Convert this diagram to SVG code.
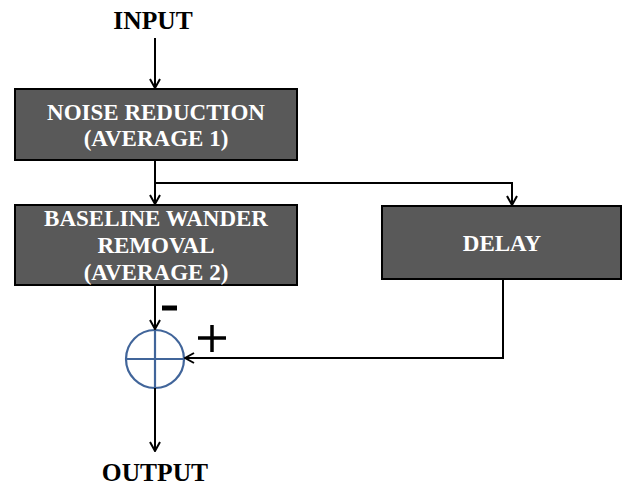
<svg xmlns="http://www.w3.org/2000/svg" width="627" height="486" viewBox="0 0 627 486">
<defs>
<marker id="arr" viewBox="0 0 12 12" refX="11" refY="6" markerWidth="12" markerHeight="12" markerUnits="userSpaceOnUse" orient="auto">
<path d="M2,1 L11,6 L2,11" fill="none" stroke="#000" stroke-width="2"/>
</marker>
<style>
.box{fill:#595959;stroke:#000;stroke-width:2}
.bt{font-family:"Liberation Serif",serif;font-weight:bold;font-size:23px;fill:#fff;text-anchor:middle}
.lt{font-family:"Liberation Serif",serif;font-weight:bold;font-size:25.5px;fill:#000;text-anchor:middle}
.ln{fill:none;stroke:#000;stroke-width:2}
.sg{stroke:#000;stroke-width:3.5;fill:none}
</style>
</defs>
<rect width="627" height="486" fill="#fff"/>
<g id="input"><text class="lt" x="153" y="29">INPUT</text></g>
<g id="noise">
<rect class="box" x="15" y="89" width="282" height="71"/>
<text class="bt" x="156" y="120">NOISE REDUCTION</text>
<text class="bt" x="156" y="146">(AVERAGE 1)</text>
</g>
<g id="baseline">
<rect class="box" x="15" y="205" width="282" height="80"/>
<text class="bt" x="156" y="226">BASELINE WANDER</text>
<text class="bt" x="156" y="253">REMOVAL</text>
<text class="bt" x="156" y="280">(AVERAGE 2)</text>
</g>
<g id="delay">
<rect class="box" x="382" y="206" width="239" height="73"/>
<text class="bt" x="502" y="251">DELAY</text>
</g>
<g id="sum">
<circle cx="155" cy="359" r="29" fill="none" stroke="#41659A" stroke-width="2.2"/>
<line x1="126" y1="359" x2="184" y2="359" stroke="#41659A" stroke-width="2.2"/>
<line x1="155" y1="330" x2="155" y2="388" stroke="#41659A" stroke-width="2.2"/>
</g>
<g id="signs">
<line x1="162" y1="308" x2="177" y2="308" stroke="#000" stroke-width="5"/>
<line class="sg" x1="198" y1="338" x2="226" y2="338"/>
<line class="sg" x1="212" y1="325" x2="212" y2="352"/>
</g>
<g id="output"><text class="lt" x="155" y="481">OUTPUT</text></g>
<g id="connectors">
<line class="ln" x1="155" y1="38" x2="155" y2="88" marker-end="url(#arr)"/>
<line class="ln" x1="155" y1="161" x2="155" y2="204" marker-end="url(#arr)"/>
<polyline class="ln" points="155,183 512,183 512,205" marker-end="url(#arr)"/>
<line class="ln" x1="155" y1="286" x2="155" y2="329" marker-end="url(#arr)"/>
<polyline class="ln" points="503,280 503,358 185,358" marker-end="url(#arr)"/>
<line class="ln" x1="155" y1="388" x2="155" y2="451" marker-end="url(#arr)"/>
</g>
</svg>
